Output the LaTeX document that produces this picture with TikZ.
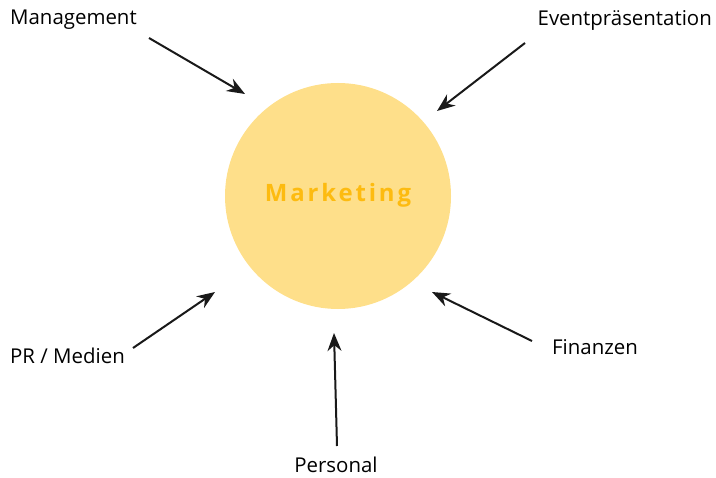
\documentclass[tikz,border=0pt]{standalone}
\usepackage{fontspec}
\setmainfont{Open Sans}
\usetikzlibrary{arrows.meta}
\definecolor{circfill}{HTML}{FEDF8A}
\definecolor{circtext}{HTML}{FDBB10}

\begin{document}
\begin{tikzpicture}[x=1bp, y=-1bp,
	label/.style = {font=\fontsize{20.5}{24}\selectfont\addfontfeatures{Weight=300}, inner sep=0pt},
	arr/.style = {-{Stealth[length=18bp, width=14bp]}, line width=2bp, black!90}]
	\useasboundingbox (0,0) rectangle (716,478);
	\node[circle, fill=circfill, minimum size=226bp, inner sep=0pt] (mk) at (338,196) {};
	\node[text=circtext, font=\fontsize{24}{28}\selectfont\bfseries\addfontfeatures{LetterSpace=12}] (mktext) at (338,195) {Marketing};
	\node[label, anchor=west] (man) at (10,20) {Management};
	\node[label, anchor=east] (ev) at (712,20) {Eventpräsentation};
	\node[label, anchor=west] (pr) at (10,356) {PR / Medien};
	\node[label, anchor=west] (fin) at (552,347) {Finanzen};
	\node[label] (pers) at (336,465) {Personal};
	\coordinate (man1) at (149,38);   \coordinate (man2) at (245,94);
	\coordinate (ev1) at (525,43);    \coordinate (ev2) at (437,111);
	\coordinate (pr1) at (133,348);   \coordinate (pr2) at (215,292);
	\coordinate (fin1) at (532,341);  \coordinate (fin2) at (432,292);
	\coordinate (pers1) at (337,446); \coordinate (pers2) at (334,333);
	\draw[arr] (man1) -- (man2);
	\draw[arr] (ev1) -- (ev2);
	\draw[arr] (pr1) -- (pr2);
	\draw[arr] (fin1) -- (fin2);
	\draw[arr] (pers1) -- (pers2);
\end{tikzpicture}
\end{document}
